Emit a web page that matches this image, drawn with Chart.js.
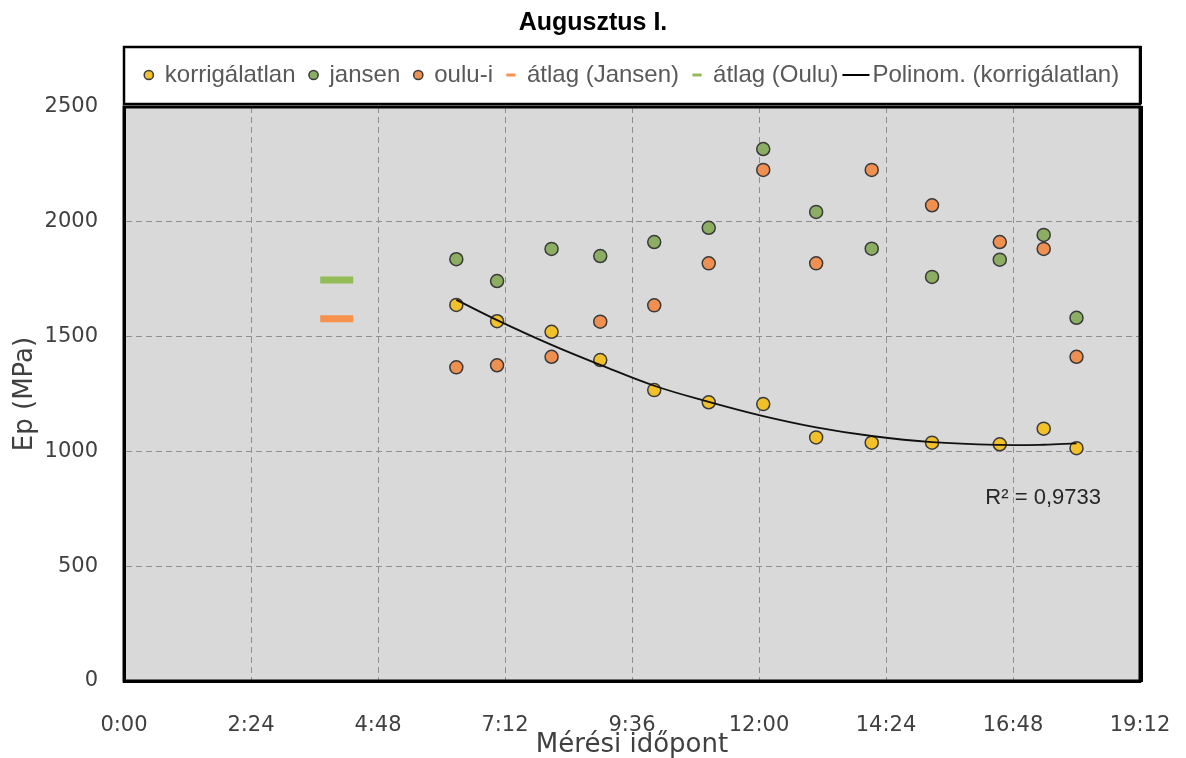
<!DOCTYPE html>
<html>
<head>
<meta charset="utf-8">
<script src="https://cdn.jsdelivr.net/npm/chart.js@4.4.0/dist/chart.umd.min.js"></script>
<style>
  html, body { margin: 0; padding: 0; background: #fff; }
</style>
</head>
<body>
<canvas id="epChart" width="1186" height="758"></canvas>
<script>
// measurement times in hours (x axis is a time-of-day axis, 0:00 .. 19:12)
const timeHours = [6.28, 7.05, 8.08, 9.0, 10.02, 11.05, 12.08, 13.08, 14.13, 15.27, 16.55, 17.38, 18.0];
const korrigalatlan = [1638, 1567, 1521, 1398, 1267, 1214, 1206, 1061, 1038, 1038, 1031, 1099, 1014];
const jansen = [1837, 1742, 1882, 1851, 1912, 1974, 2317, 2043, 1883, 1760, 1835, 1943, 1582];
const oulu = [1366, 1375, 1412, 1565, 1636, 1819, 2226, 1819, 2226, 2072, 1912, 1882, 1412];

// the two average marks
const avgTime = [4.02];
const avgJansen = [1578];
const avgOulu = [1746];

const trendValues = [1660, 1572, 1464, 1377, 1286, 1216, 1154, 1105, 1067, 1040, 1028, 1029, 1035];

const xTickLabels = ['0:00', '2:24', '4:48', '7:12', '9:36', '12:00', '14:24', '16:48', '19:12'];
const yTicks = [0, 500, 1000, 1500, 2000, 2500];
const rSquaredText = 'R² = 0,9733';

const toPoints = (xs, ys) => ys.map((y, i) => ({ x: xs[i], y: y }));

// long legend line for the trendline entry
const trendMark = document.createElement('canvas');
trendMark.width = 40;
trendMark.height = 4;
const tctx = trendMark.getContext('2d');
tctx.fillStyle = '#000';
tctx.fillRect(6, 1, 27, 2);

const plotFrame = {
    id: 'plotFrame',
    beforeDraw(chart) {
        const { ctx, chartArea: a } = chart;
        ctx.save();
        ctx.fillStyle = '#d9d9d9';
        ctx.fillRect(a.left, a.top, a.width, a.height);
        // legend box
        const top = chart.legend.top - 2;
        ctx.strokeStyle = '#000';
        ctx.lineWidth = 2.5;
        ctx.strokeRect(a.left, top, a.width, a.top - 3 - top);
        ctx.fillStyle = '#000';
        ctx.fillRect(a.right - 1, top - 1, 3, a.top - 2 - top);
        ctx.restore();
    },
    afterDatasetsDraw(chart) {
        const { ctx, scales } = chart;
        ctx.save();
        ctx.fillStyle = '#262626';
        ctx.font = '22px "Liberation Sans", Arial, sans-serif';
        ctx.textAlign = 'center';
        ctx.textBaseline = 'middle';
        ctx.fillText(rSquaredText, scales.x.getPixelForValue(17.37), scales.y.getPixelForValue(797));
        ctx.restore();
    },
    afterDraw(chart) {
        const { ctx, chartArea: a } = chart;
        ctx.save();
        ctx.strokeStyle = '#000';
        ctx.lineWidth = 3;
        ctx.strokeRect(a.left, a.top, a.width, a.height);
        ctx.fillStyle = '#000';
        ctx.fillRect(a.right, a.top - 1, 3, a.height + 2);
        ctx.restore();
    }
};

const tickFont = { family: 'DejaVu Sans', size: 21 };
const titleFont = { family: 'DejaVu Sans', size: 26, lineHeight: 1 };
const gridStyle = { color: '#8f8f8f', lineWidth: 1, drawTicks: false };

new Chart(document.getElementById('epChart'), {
    type: 'scatter',
    data: {
        datasets: [
            {
                label: 'korrigálatlan',
                data: toPoints(timeHours, korrigalatlan),
                backgroundColor: '#f2c12a',
                borderColor: '#3a3a3a',
                borderWidth: 1.5,
                pointRadius: 6.5,
                order: 2
            },
            {
                label: 'jansen',
                data: toPoints(timeHours, jansen),
                backgroundColor: '#8cae62',
                borderColor: '#3a3a3a',
                borderWidth: 1.5,
                pointRadius: 6.5,
                order: 3
            },
            {
                label: 'oulu-i',
                data: toPoints(timeHours, oulu),
                backgroundColor: '#ef9050',
                borderColor: '#3a3a3a',
                borderWidth: 1.5,
                pointRadius: 6.5,
                order: 4
            },
            {
                label: 'átlag (Jansen)',
                data: toPoints(avgTime, avgJansen),
                pointStyle: 'line',
                backgroundColor: '#f7924d',
                borderColor: '#f7924d',
                borderWidth: 7,
                pointRadius: 16.5,
                legendLineWidth: 3,
                order: 5
            },
            {
                label: 'átlag (Oulu)',
                data: toPoints(avgTime, avgOulu),
                pointStyle: 'line',
                backgroundColor: '#93bb58',
                borderColor: '#93bb58',
                borderWidth: 7,
                pointRadius: 16.5,
                legendLineWidth: 3,
                order: 5
            },
            {
                type: 'line',
                label: 'Polinom. (korrigálatlan)',
                data: toPoints(timeHours, trendValues),
                showLine: true,
                borderColor: '#111',
                backgroundColor: '#111',
                borderWidth: 1.8,
                tension: 0.4,
                pointRadius: 0,
                pointStyle: trendMark,
                fill: false,
                order: 1
            }
        ]
    },
    options: {
        responsive: false,
        animation: false,
        devicePixelRatio: 1,
        layout: { padding: 0 },
        plugins: {
            title: {
                display: true,
                text: 'Augusztus I.',
                color: '#000',
                font: { family: 'Liberation Sans', size: 25, weight: 'bold' },
                padding: { top: 8, bottom: 11 }
            },
            legend: {
                position: 'top',
                fullSize: false,
                labels: {
                    usePointStyle: true,
                    boxWidth: 8,
                    boxHeight: 6.5,
                    padding: 14,
                    color: '#595959',
                    font: { family: 'Liberation Sans', size: 24 },
                    sort: (a, b) => a.datasetIndex - b.datasetIndex,
                    generateLabels(chart) {
                        const items = Chart.defaults.plugins.legend.labels.generateLabels(chart);
                        items.forEach(it => {
                            const ds = chart.data.datasets[it.datasetIndex];
                            if (ds.legendLineWidth) it.lineWidth = ds.legendLineWidth;
                        });
                        return items;
                    }
                }
            },
            tooltip: { enabled: false }
        },
        scales: {
            x: {
                type: 'linear',
                min: 0,
                max: 19.2,
                ticks: {
                    stepSize: 2.4,
                    autoSkip: false,
                    maxRotation: 0,
                    padding: 2,
                    color: '#404040',
                    font: tickFont,
                    callback: (v, i) => xTickLabels[i]
                },
                grid: { color: '#8f8f8f', lineWidth: 1, drawTicks: true, tickLength: 30, tickColor: 'rgba(0,0,0,0)' },
                border: { color: '#000', width: 3, dash: [6, 4] },
                title: {
                    display: true,
                    text: 'Mérési időpont',
                    color: '#404040',
                    font: titleFont,
                    padding: { top: 0, bottom: 0 }
                },
                afterFit(s) { s.height = 77; }
            },
            x2: {
                type: 'linear',
                position: 'top',
                grid: { display: false, drawTicks: false },
                ticks: { display: false },
                border: { display: false },
                afterFit(s) { s.height = 10; }
            },
            y: {
                min: 0,
                max: 2500,
                afterBuildTicks(s) { s.ticks = yTicks.map(v => ({ value: v })); },
                ticks: {
                    padding: 26,
                    color: '#404040',
                    font: tickFont,
                    callback: v => String(v)
                },
                grid: gridStyle,
                border: { color: '#000', width: 3, dash: [6, 4] },
                title: {
                    display: true,
                    text: 'Ep (MPa)',
                    color: '#404040',
                    font: titleFont,
                    padding: { top: 12, bottom: 0 }
                },
                afterFit(s) { s.width = 124; }
            },
            y2: {
                type: 'linear',
                position: 'right',
                grid: { display: false, drawTicks: false },
                ticks: { display: false },
                border: { display: false },
                afterFit(s) { s.width = 46; }
            }
        }
    },
    plugins: [plotFrame]
});
</script>
</body>
</html>
